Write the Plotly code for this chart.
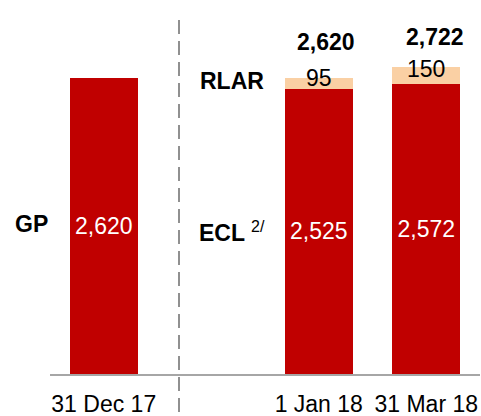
import plotly.graph_objects as go

categories = ["31 Dec 17", "1 Jan 18", "31 Mar 18"]
ecl_values = [2620, 2525, 2572]
rlar_values = [None, 95, 150]
totals = [None, 2620, 2722]
inside_labels = ["2,620", "2,525", "2,572"]
rlar_labels = [None, "95", "150"]
total_labels = [None, "2,620", "2,722"]

x_pos = [0, 2, 3]
RED = "#C00000"
PEACH = "#FAD0A4"
FONT = "Arial, Liberation Sans, sans-serif"

fig = go.Figure()
fig.add_trace(go.Bar(
    x=x_pos, y=ecl_values, width=0.63, marker=dict(color=RED, line=dict(width=0)),
    text=inside_labels, textposition="inside", insidetextanchor="middle",
    textfont=dict(color="white", size=23, family=FONT), cliponaxis=False,
    showlegend=False, hoverinfo="skip"))
fig.add_trace(go.Bar(
    x=x_pos, y=rlar_values, width=0.63, marker=dict(color=PEACH, line=dict(width=0)),
    showlegend=False, hoverinfo="skip"))

annotations = []
for xp, base, v, lab in zip(x_pos, ecl_values, rlar_values, rlar_labels):
    if v is None:
        continue
    annotations.append(dict(x=xp, y=base + v / 2, xref="x", yref="y", text=lab,
                            showarrow=False, yanchor="middle", yshift=6,
                            font=dict(size=23, color="black", family=FONT)))
tot_shift = {2: (7, 36), 3: (9, 30)}
for xp, t, lab in zip(x_pos, totals, total_labels):
    if t is None:
        continue
    xs, ys = tot_shift[xp]
    annotations.append(dict(x=xp, y=t, xref="x", yref="y", text="<b>" + lab + "</b>",
                            showarrow=False, yanchor="middle", xshift=xs, yshift=ys,
                            font=dict(size=23, color="black", family=FONT)))

annotations += [
    dict(x=-0.043, y=1329, xref="paper", yref="y", text="<b>GP</b>", showarrow=False,
         xanchor="center", font=dict(size=23, color="black", family=FONT)),
    dict(x=1.1, y=1249, xref="x", yref="y", text="<b>ECL</b>", showarrow=False,
         font=dict(size=23, color="black", family=FONT)),
    dict(x=1.435, y=1302, xref="x", yref="y", text="2/", showarrow=False,
         font=dict(size=16, color="black", family=FONT)),
    dict(x=1.19, y=2595, xref="x", yref="y", text="<b>RLAR</b>", showarrow=False,
         font=dict(size=23, color="black", family=FONT)),
]

fig.add_shape(type="line", xref="x", yref="paper", x0=0.7, x1=0.7, y0=-0.107, y1=1.015,
              line=dict(color="#909090", width=2, dash="14px,7px"))

fig.update_layout(
    width=481, height=416,
    margin=dict(l=50, r=1, t=20, b=42, autoexpand=False),
    paper_bgcolor="white", plot_bgcolor="white",
    barmode="stack", bargap=0,
    annotations=annotations,
    font=dict(family=FONT, size=23, color="black"),
    xaxis=dict(range=[-0.5, 3.5], tickvals=x_pos, ticktext=categories, automargin=False,
               showgrid=False, zeroline=False, showline=True, linecolor="#A6A6A6",
               linewidth=1.5, ticks="", ticklabelstandoff=9,
               tickfont=dict(size=23, color="black", family=FONT)),
    yaxis=dict(range=[0, 3135], visible=False, showgrid=False, zeroline=False, automargin=False),
)

fig.write_html("out.html", config={"displayModeBar": False, "staticPlot": True},
               post_script="document.body.style.margin='0';document.body.style.overflow='hidden';")
